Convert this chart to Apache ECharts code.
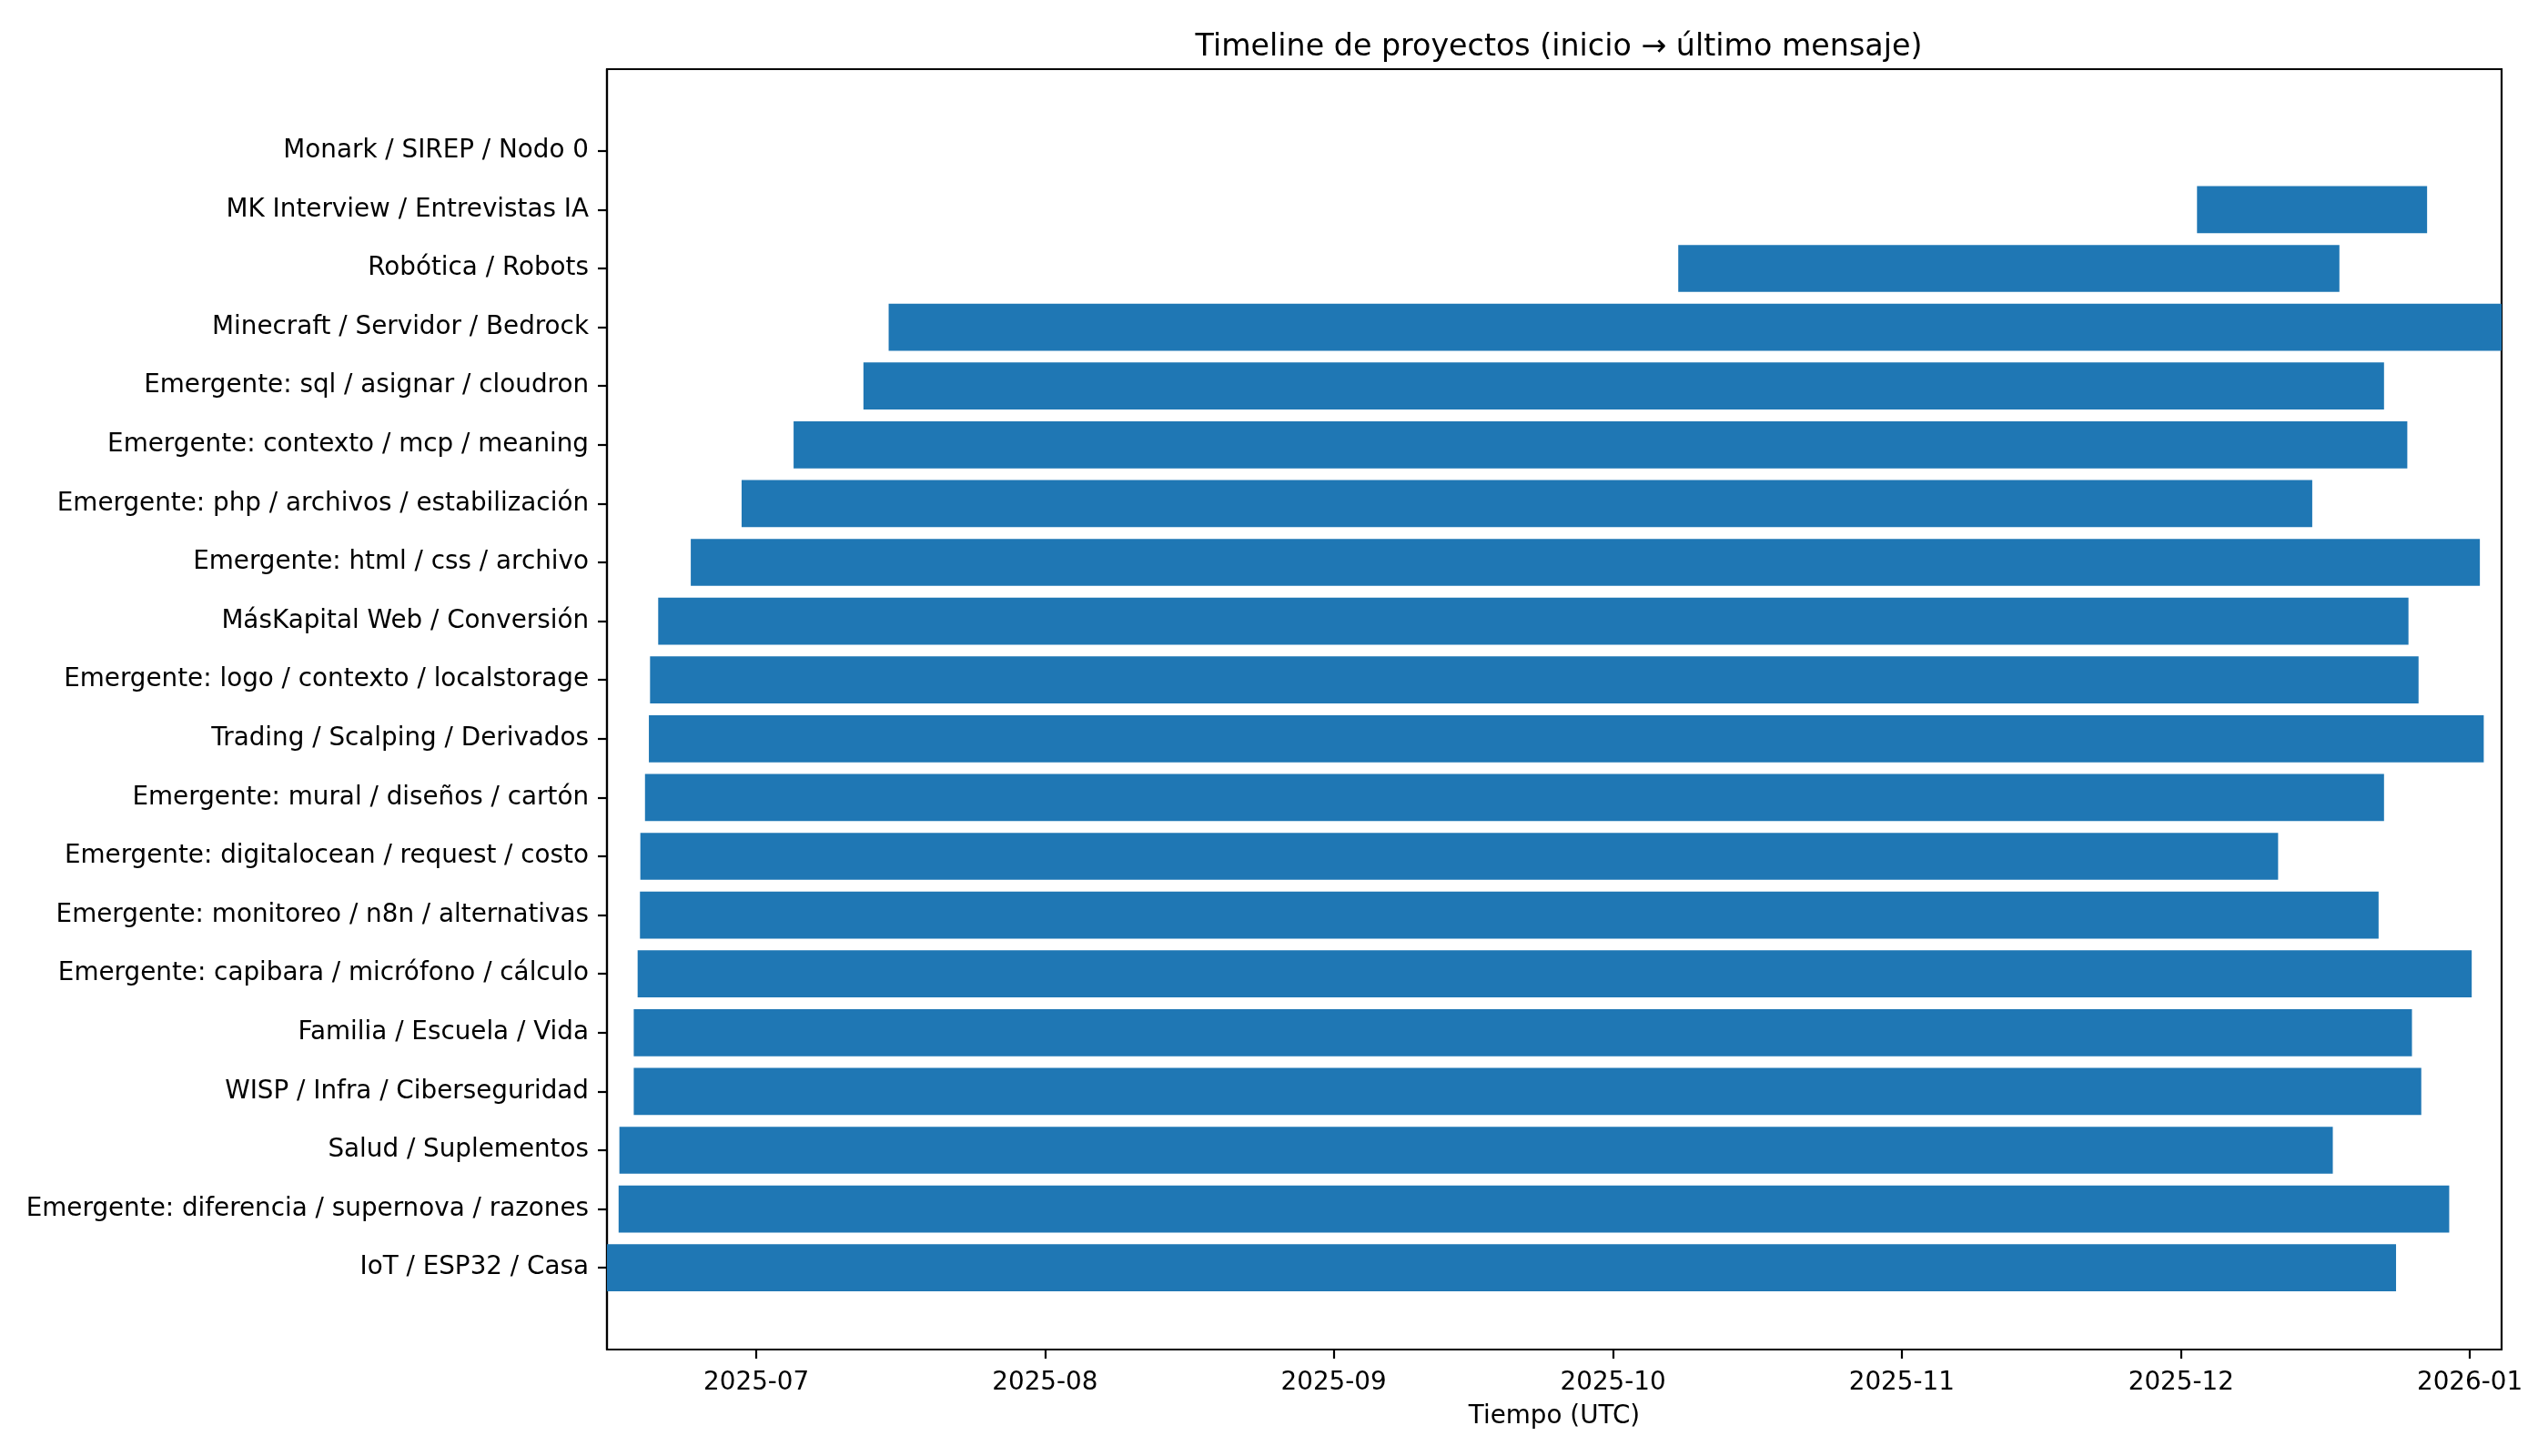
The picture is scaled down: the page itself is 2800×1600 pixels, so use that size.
<!DOCTYPE html>
<html>
<head>
<meta charset="utf-8">
<script src="https://cdn.jsdelivr.net/npm/echarts@6/dist/echarts.min.js"></script>
<style>html,body{margin:0;padding:0;background:#fff;}#chart{width:2800px;height:1600px;}</style>
</head>
<body>
<div id="chart"></div>
<script>
// Categories, top to bottom as shown
const categories = [
  "Monark / SIREP / Nodo 0",
  "MK Interview / Entrevistas IA",
  "Robótica / Robots",
  "Minecraft / Servidor / Bedrock",
  "Emergente: sql / asignar / cloudron",
  "Emergente: contexto / mcp / meaning",
  "Emergente: php / archivos / estabilización",
  "Emergente: html / css / archivo",
  "MásKapital Web / Conversión",
  "Emergente: logo / contexto / localstorage",
  "Trading / Scalping / Derivados",
  "Emergente: mural / diseños / cartón",
  "Emergente: digitalocean / request / costo",
  "Emergente: monitoreo / n8n / alternativas",
  "Emergente: capibara / micrófono / cálculo",
  "Familia / Escuela / Vida",
  "WISP / Infra / Ciberseguridad",
  "Salud / Suplementos",
  "Emergente: diferencia / supernova / razones",
  "IoT / ESP32 / Casa"
];
// Start (inicio) per project, UTC
const startDates = [
  "2025-12-27T00:00Z",
  "2025-12-02T17:00Z",
  "2025-10-08T00:00Z",
  "2025-07-15T05:00Z",
  "2025-07-12T12:00Z",
  "2025-07-05T00:00Z",
  "2025-06-29T10:00Z",
  "2025-06-23T23:00Z",
  "2025-06-20T11:00Z",
  "2025-06-19T14:00Z",
  "2025-06-19T11:00Z",
  "2025-06-19T01:00Z",
  "2025-06-18T13:00Z",
  "2025-06-18T12:00Z",
  "2025-06-18T06:00Z",
  "2025-06-17T20:00Z",
  "2025-06-17T20:00Z",
  "2025-06-16T07:00Z",
  "2025-06-16T05:00Z",
  "2025-06-14T23:00Z"
];
// End (último mensaje) per project, UTC
const endDates = [
  "2025-12-27T00:00Z",
  "2025-12-27T10:00Z",
  "2025-12-18T00:00Z",
  "2026-01-04T10:00Z",
  "2025-12-22T19:00Z",
  "2025-12-25T07:00Z",
  "2025-12-15T02:00Z",
  "2026-01-02T02:00Z",
  "2025-12-25T10:00Z",
  "2025-12-26T12:00Z",
  "2026-01-02T12:00Z",
  "2025-12-22T19:00Z",
  "2025-12-11T10:00Z",
  "2025-12-22T05:00Z",
  "2026-01-01T05:00Z",
  "2025-12-25T19:00Z",
  "2025-12-26T19:00Z",
  "2025-12-17T07:00Z",
  "2025-12-29T19:00Z",
  "2025-12-24T02:00Z"
];
// X tick labels (month starts)
const xTickLabels = ["2025-07","2025-08","2025-09","2025-10","2025-11","2025-12","2026-01"];

const startTs = startDates.map(s => Date.parse(s));
const endTs = endDates.map(s => Date.parse(s));
const xTickTs = xTickLabels.map(s => Date.parse(s + "-01T00:00Z"));
const xMin = Math.min(...startTs);
const xMax = Math.max(...endTs);
const n = categories.length;
const yIdx = categories.map((_, i) => i);
const data = categories.map((c, i) => [startTs[i], endTs[i], i]);

const FONT = "DejaVu Sans";
const chart = echarts.init(document.getElementById('chart'), null, {renderer: 'canvas'});
chart.setOption({
  animation: false,
  backgroundColor: '#fff',
  title: {
    text: "Timeline de proyectos (inicio → último mensaje)",
    left: 1708, top: 31, textAlign: 'center',
    textStyle: {fontFamily: FONT, fontSize: 33.3, fontWeight: 'normal', color: '#000'}
  },
  grid: {left: 667, right: 51, top: 76, bottom: 117, show: true, borderColor: '#000', borderWidth: 2.2, backgroundColor: 'transparent'},
  xAxis: {
    type: 'value', min: xMin, max: xMax, scale: true,
    name: "Tiempo (UTC)", nameLocation: 'middle', nameGap: 60,
    nameTextStyle: {fontFamily: FONT, fontSize: 27.8, color: '#000'},
    axisLine: {show: true, onZero: false, lineStyle: {color: '#000', width: 2.2}},
    axisTick: {show: true, length: 10, lineStyle: {color: '#000', width: 2.2}, customValues: xTickTs},
    axisLabel: {
      fontFamily: FONT, fontSize: 27.8, color: '#000', margin: 23,
      customValues: xTickTs,
      formatter: function (v) { const d = new Date(v); return d.getUTCFullYear() + '-' + String(d.getUTCMonth() + 1).padStart(2, '0'); }
    },
    splitLine: {show: false}
  },
  yAxis: {
    type: 'value', inverse: true, min: -1.39, max: n - 1 + 1.39,
    axisLine: {show: true, onZero: false, lineStyle: {color: '#000', width: 2.2}},
    axisTick: {show: true, length: 10, inside: false, lineStyle: {color: '#000', width: 2.2}, customValues: yIdx},
    axisLabel: {
      fontFamily: FONT, fontSize: 27.8, color: '#000', margin: 20, padding: [7, 0, 0, 0],
      customValues: yIdx,
      formatter: function (v) { return categories[Math.round(v)] || ''; }
    },
    splitLine: {show: false}
  },
  series: [{
    type: 'custom',
    encode: {x: [0, 1], y: 2},
    data: data,
    clip: true,
    renderItem: function (params, api) {
      const y = api.value(2);
      const p0 = api.coord([api.value(0), y]);
      const p1 = api.coord([api.value(1), y]);
      const h = api.size([0, 0.8])[1];
      const rect = echarts.graphic.clipRectByRect(
        {x: p0[0], y: p0[1] - h / 2, width: p1[0] - p0[0], height: h},
        {x: params.coordSys.x, y: params.coordSys.y, width: params.coordSys.width, height: params.coordSys.height}
      );
      return rect && {type: 'rect', shape: rect, style: {fill: '#1f77b4'}};
    }
  }]
});
</script>
</body>
</html>
